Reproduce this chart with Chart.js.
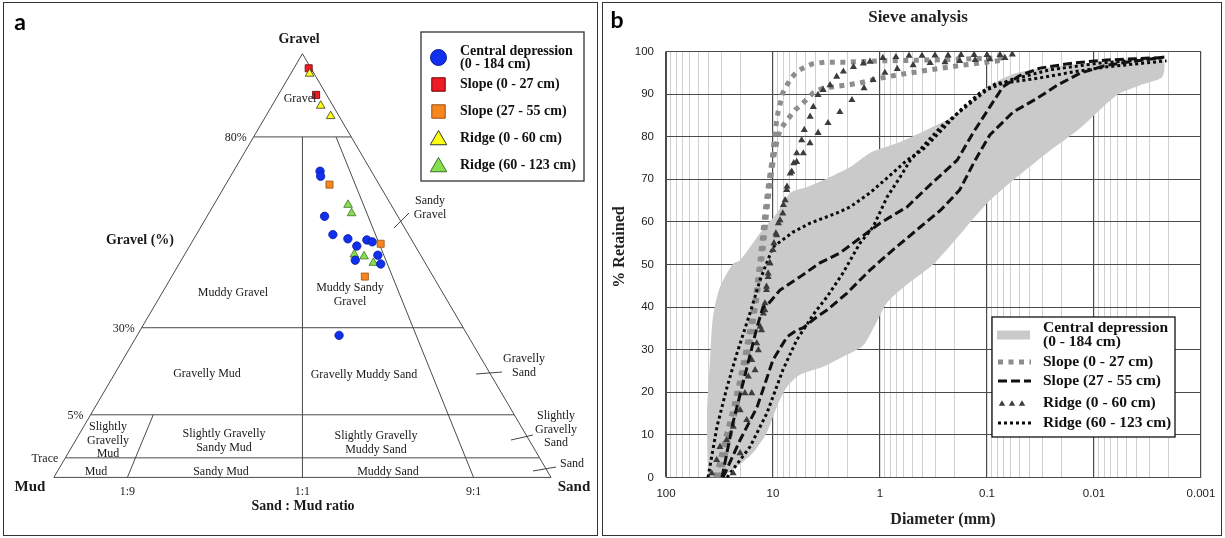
<!DOCTYPE html>
<html>
<head>
<meta charset="utf-8">
<script src="https://cdn.jsdelivr.net/npm/chart.js@4.4.1/dist/chart.umd.min.js"></script>
<style>
body { margin: 0; background: #fff; }
#page { position: relative; width: 1225px; height: 538px; overflow: hidden; }
#page canvas { position: absolute; top: 0; }
.box { position: absolute; border: 1px solid #333; box-sizing: border-box; }
</style>
</head>
<body>
<div id="page">
	<canvas id="ternary" width="600" height="538" style="left:0"></canvas>
	<canvas id="sieve" width="625" height="538" style="left:600px"></canvas>
	<div class="box" style="left:3px;top:2px;width:595px;height:534px"></div>
	<div class="box" style="left:602px;top:2px;width:620px;height:534px"></div>
</div>
<script>
var groupNames = ['Central depression\n(0 - 184 cm)', 'Slope (0 - 27 cm)', 'Slope (27 - 55 cm)', 'Ridge (0 - 60 cm)', 'Ridge (60 - 123 cm)'];

//panel a : sample composition, % gravel and % sand (mud is the rest)
var centralGravel = [71.0, 69.7, 59.2, 54.4, 53.3, 51.4, 53.0, 52.5, 49.0, 46.7, 47.7, 27.8];
var centralSand = [18.8, 19.6, 25.9, 30.4, 34.7, 37.9, 39.6, 41.2, 44.4, 46.3, 39.4, 45.4];
var slopeTopGravel = [96.5, 90.1];
var slopeTopSand = [3.2, 8.2];
var slopeLowGravel = [67.5, 52.0, 43.4];
var slopeLowSand = [22.9, 43.4, 44.0];
var ridgeTopGravel = [95.2, 87.5, 85.0];
var ridgeTopSand = [4.1, 10.6, 13.9];
var ridgeLowGravel = [62.2, 60.0, 49.2, 48.7, 47.0];
var ridgeLowSand = [30.2, 32.2, 38.4, 41.1, 44.3];

//Folk class limits
var gravelLimits = [80, 30, 5, 0.01];
var gravelLimitLabels = ['80%', '30%', '5%', 'Trace'];
var ratioLimits = [0.1, 0.5, 0.9];
var ratioLimitTop = [5, 80, 80];
var ratioLabels = ['1:9', '1:1', '9:1'];
var fieldNames = ['Gravel', 'Muddy Gravel', 'Muddy Sandy\nGravel', 'Sandy\nGravel', 'Gravelly Mud', 'Gravelly Muddy Sand',
	'Gravelly\nSand', 'Slightly\nGravelly\nMud', 'Slightly Gravelly\nSandy Mud', 'Slightly Gravelly\nMuddy Sand',
	'Slightly\nGravelly\nSand', 'Mud', 'Sandy Mud', 'Muddy Sand', 'Sand'];

//panel b : sieve curves, diameter (mm) and % retained
var bandCoarseD = [40.5, 41.4, 38.8, 36.4, 31.3, 23.6, 20.3, 13.2, 9.2, 6.9, 4.8, 3.4, 1.9, 1.24, 0.69, 0.34, 0.21, 0.168, 0.116, 0.076, 0.052, 0.021, 0.0023];
var bandCoarseP = [0, 15, 27.6, 37.7, 44.7, 50.2, 51, 57.4, 62.1, 66.8, 68.2, 69.8, 72.9, 76.2, 78.5, 82, 84.6, 86.3, 90.3, 93.3, 95, 96.6, 98.2];
var bandFineD = [30.2, 21.8, 15.4, 11.5, 9.2, 7.4, 5.6, 3.4, 2.2, 1.44, 1.1, 0.86, 0.58, 0.32, 0.18, 0.1, 0.057, 0.0275, 0.0135, 0.0061, 0.0037, 0.0023];
var bandFineP = [0, 2.5, 5.8, 10.4, 16.6, 21.3, 24.1, 26, 28.4, 31, 36, 41, 45, 50, 57, 64.4, 69.8, 76.2, 82, 89.8, 92.1, 94];

var slope1aD = [34.1, 28.1, 23.7, 19.9, 16.8, 14.7, 13.2, 11.9, 11.1, 10.2, 9.6, 9.0, 8.1, 6.9, 6.0, 5.25, 4.3, 3.3, 2.1, 1.0, 0.34, 0.068];
var slope1aP = [0, 8.8, 15.8, 24.1, 33.5, 41.7, 51.1, 62.1, 68.2, 74.5, 80.9, 85.6, 90.3, 93.5, 95.2, 96.1, 97.1, 97.5, 97.5, 97.8, 98, 98.5];
var slope1bD = [31.3, 25.8, 21.7, 18.3, 15.7, 13.8, 12.4, 11.4, 10.4, 9.6, 8.6, 7.4, 6.2, 5.25, 4.2, 3.4, 2.4, 1.54, 1.11, 0.69, 0.34, 0.17, 0.068];
var slope1bP = [0, 8.8, 17, 25.2, 34.6, 44, 53.4, 62.8, 71, 76.9, 81.6, 83.9, 86.3, 87.9, 90.3, 91.4, 91.9, 92.6, 93.5, 94.5, 95.7, 96.8, 98];

var slope2aD = [30.0, 23.7, 17.5, 14.1, 12.4, 11.1, 8.6, 5.6, 3.64, 2.37, 1.54, 1.0, 0.56, 0.34, 0.19, 0.135, 0.094, 0.071, 0.05, 0.032, 0.0157, 0.0076, 0.0022];
var slope2aP = [0, 12.8, 25.9, 35.3, 40, 40.7, 44, 47.1, 50.4, 52.7, 56.2, 59.7, 63.5, 68.7, 74.5, 80.9, 87, 91.7, 94.3, 96.1, 97.3, 98.0, 98.6];
var slope2bD = [29.3, 20.3, 14.1, 10.0, 7.4, 6.0, 5.25, 3.9, 3.13, 2.03, 1.24, 0.76, 0.42, 0.27, 0.18, 0.129, 0.094, 0.057, 0.034, 0.022, 0.0135, 0.0076, 0.0022];
var slope2bP = [0, 8.8, 16.5, 27.6, 33, 34.6, 35.1, 37.7, 39.3, 43.3, 48.7, 53.4, 58.8, 62.8, 67.5, 74.5, 80.4, 85.8, 89, 92.1, 94.9, 96.8, 98.7];

var ridge1aD = [37.4, 33.6, 31.3, 27.1, 23.5, 20.3, 18.3, 17.0, 15.8, 14.2, 13.2, 12.3, 11.9, 11.5, 11.1, 10.7, 9.8, 9.4, 8.9, 8.1,
	7.7, 7.4, 6.9, 6.4, 6.0, 5.4, 5.1, 4.5, 4.2, 3.8, 3.4, 2.93, 2.54, 2.2, 1.77, 1.43, 1.24, 0.94, 0.71, 0.535,
	0.405, 0.306, 0.231, 0.175, 0.132, 0.1, 0.0756, 0.058];
var ridge1aP = [1.0, 4.1, 7.2, 8.8, 11.9, 15.8, 19.8, 23.7, 27.6, 31.5, 35.4, 38.5, 40.9, 44.8, 47.9, 50.3, 55.0, 57.3, 59.7, 62.0,
	65.1, 68.3, 71.4, 73.8, 76.1, 79.2, 81.6, 84.7, 87.0, 89.8, 91.0, 92.1, 94.1, 95.3, 96.4, 97.2, 97.6, 98.5, 98.7, 99.0,
	99.0, 99.1, 99.1, 99.2, 99.2, 99.2, 99.2, 99.3];
var ridge1bD = [23.6, 20.3, 17.6, 15.8, 14.7, 13.7, 12.8, 11.9, 11.5, 11.1, 10.7, 10.0, 9.24, 8.6, 8.0, 7.45, 6.68, 6.01, 5.21, 4.51,
	3.79, 3.06, 2.37, 1.83, 1.41, 1.16, 0.90, 0.69, 0.49, 0.34, 0.247, 0.18, 0.129, 0.094, 0.068];
var ridge1bP = [1.0, 5.7, 13.5, 19.8, 25.2, 29.9, 34.6, 39.3, 44.0, 47.1, 50.3, 53.4, 56.9, 60.4, 64.0, 67.5, 71.8, 74.1, 76.1, 78.5,
	80.9, 83.2, 85.8, 88.6, 91.4, 93.3, 95.0, 95.9, 96.8, 97.3, 97.5, 97.8, 98.0, 98.2, 98.5];

var ridge2aD = [40.5, 33.4, 26.9, 21.7, 16.4, 13.2, 10.0, 6.5, 4.5, 2.52, 1.91, 1.24, 0.76, 0.56, 0.40, 0.24, 0.17, 0.116, 0.081, 0.061, 0.032, 0.0157, 0.0076, 0.0021];
var ridge2aP = [0, 11.9, 21.2, 29.2, 38.6, 46.4, 54.1, 57.6, 59.7, 62.1, 63.5, 66.8, 71.5, 74.5, 76.9, 82.7, 86.7, 90.3, 92.6, 92.8, 93.8, 95.2, 96.4, 97.8];
var ridge2bD = [26.9, 16.4, 11.4, 8.1, 6.0, 5.0, 4.05, 3.13, 2.22, 1.54, 1.16, 0.86, 0.65, 0.52, 0.27, 0.1, 0.061, 0.026, 0.0088, 0.0022];
var ridge2bP = [0, 7.2, 15.1, 25.2, 32.3, 35.3, 38.8, 42.4, 48, 55, 58.8, 65.8, 70.5, 74.5, 82.3, 91, 93.3, 95.7, 97.3, 98.5];

var decades = [0.001, 0.01, 0.1, 1, 10, 100];
var decadeLabels = ['0.001', '0.01', '0.1', '1', '10', '100'];

var SERIF = '"Liberation Serif", "Times New Roman", serif';

//------------------------------------------------------------
//panel a
//the Folk diagram is schematic: gravel limits and ratio lines are not spaced linearly
var gravelKnots = [0, 0.01, 5, 30, 80, 100];
var heightKnots = [0, 4.62, 14.78, 35.33, 80.37, 100];
var ratioKnots = [0, 0.1, 0.5, 0.9, 1];
var baseKnots = [0, 14.79, 50, 84.42, 100];

function piecewise(v, xs, ys) {
	for (var i = 1; i < xs.length; i++) {
		if (v <= xs[i]) {
			return ys[i - 1] + (ys[i] - ys[i - 1]) * (v - xs[i - 1]) / (xs[i] - xs[i - 1]);
		}
	}
	return ys[ys.length - 1];
}

function folkPoint(gravel, share) {
	var h = piecewise(gravel, gravelKnots, heightKnots);
	var b = piecewise(share, ratioKnots, baseKnots);
	return {x: 50 + (b - 50) * (1 - h / 100), y: h};
}

function samplePoints(gravel, sand) {
	return gravel.map(function(g, i) {
		return folkPoint(g, sand[i] / (100 - g));
	});
}

function frameLine(points) {
	return {data: points, showLine: true, borderColor: '#4a4a4a', borderWidth: 1, pointRadius: 0, order: 5};
}

var ternarySets = [];
ternarySets.push(frameLine([folkPoint(0, 0), folkPoint(100, 0.5), folkPoint(0, 1), folkPoint(0, 0)]));
gravelLimits.forEach(function(g) {
	ternarySets.push(frameLine([folkPoint(g, 0), folkPoint(g, 1)]));
});
ratioLimits.forEach(function(r, i) {
	ternarySets.push(frameLine([folkPoint(0, r), folkPoint(ratioLimitTop[i], r)]));
});

ternarySets.push({label: groupNames[2], legendA: 2, data: samplePoints(slopeLowGravel, slopeLowSand), pointStyle: 'rect', pointRadius: 5,
	backgroundColor: '#f7861f', borderColor: '#9a5012', borderWidth: 0.8, order: 1});
ternarySets.push({label: groupNames[4], legendA: 4, data: samplePoints(ridgeLowGravel, ridgeLowSand), pointStyle: 'triangle', pointRadius: 5,
	backgroundColor: '#86e04e', borderColor: '#3f6e2a', borderWidth: 0.8, order: 2});
ternarySets.push({label: groupNames[0], legendA: 0, data: samplePoints(centralGravel, centralSand), pointStyle: 'circle', pointRadius: 4.2,
	backgroundColor: '#1030f0', borderColor: '#0a1a9a', borderWidth: 0.8, order: 1});
ternarySets.push({label: groupNames[3], legendA: 3, data: samplePoints(ridgeTopGravel, ridgeTopSand), pointStyle: 'triangle', pointRadius: 5,
	backgroundColor: '#ffff14', borderColor: '#333', borderWidth: 0.8, order: 1});
ternarySets.push({label: groupNames[1], legendA: 1, data: samplePoints(slopeTopGravel, slopeTopSand), pointStyle: 'rect', pointRadius: 5,
	backgroundColor: '#ee1c24', borderColor: '#6a0000', borderWidth: 0.8, order: 2});

function writeText(ctx, s, x, y, font, align, step) {
	ctx.font = font;
	ctx.textAlign = align || 'center';
	ctx.textBaseline = 'middle';
	s.split('\n').forEach(function(line, i) {
		ctx.fillText(line, x, y + i * (step || 13.5));
	});
}

var ternaryDecor = {
	id: 'ternaryDecor',
	afterDraw: function(chart) {
		var ctx = chart.ctx;
		var sx = chart.scales.x, sy = chart.scales.y;
		ctx.save();
		ctx.fillStyle = '#1a1a1a';

		//field names
		var spots = [[300, 99], [233, 293], [350, 288], [430, 201], [207, 374], [364, 375], [524, 359], [108, 427],
			[224, 434], [376, 436], [556, 416], [96, 472], [221, 472], [388, 472], [572, 464]];
		fieldNames.forEach(function(name, i) {
			writeText(ctx, name, spots[i][0], spots[i][1], '12px ' + SERIF);
		});

		//limit labels
		gravelLimits.forEach(function(g, i) {
			var p = folkPoint(g, 0);
			writeText(ctx, gravelLimitLabels[i], sx.getPixelForValue(p.x) - 7, sy.getPixelForValue(p.y) + 1, '12px ' + SERIF, 'right');
		});
		ratioLimits.forEach(function(r, i) {
			var p = folkPoint(0, r);
			writeText(ctx, ratioLabels[i], sx.getPixelForValue(p.x), 492, '12px ' + SERIF);
		});

		//leader lines
		ctx.strokeStyle = '#444';
		ctx.lineWidth = 1;
		[[394, 228, 409, 213], [476, 374, 502, 372], [511, 440, 533, 435], [533, 471, 556, 467]].forEach(function(l) {
			ctx.beginPath();
			ctx.moveTo(l[0], l[1]);
			ctx.lineTo(l[2], l[3]);
			ctx.stroke();
		});

		//axis names
		writeText(ctx, 'Gravel', 299, 39, 'bold 14px ' + SERIF);
		writeText(ctx, 'Mud', 30, 487, 'bold 15px ' + SERIF);
		writeText(ctx, 'Sand', 574, 487, 'bold 15px ' + SERIF);
		writeText(ctx, 'Gravel (%)', 140, 240, 'bold 14px ' + SERIF);
		writeText(ctx, 'Sand : Mud ratio', 303, 506, 'bold 14px ' + SERIF);
		ctx.fillStyle = '#000';
		writeText(ctx, 'a', 20, 23, 'bold 23px Lato, "Liberation Sans", sans-serif');

		//legend
		ctx.fillStyle = '#fff';
		ctx.fillRect(421, 32, 163, 149);
		ctx.strokeStyle = '#333';
		ctx.lineWidth = 1.3;
		ctx.strokeRect(421, 32, 163, 149);
		chart.data.datasets.forEach(function(ds) {
			if (ds.legendA === undefined) {
				return;
			}
			var y = 57.5 + ds.legendA * 27;
			ctx.fillStyle = ds.backgroundColor;
			ctx.strokeStyle = ds.borderColor;
			ctx.lineWidth = 1;
			Chart.helpers.drawPoint(ctx, {pointStyle: ds.pointStyle, radius: ds.pointRadius * 1.9, rotation: 0, borderWidth: 1}, 438.5, y + (ds.pointStyle === 'triangle' ? 1.5 : 0));
			ctx.fillStyle = '#111';
			var lines = ds.label.split('\n');
			writeText(ctx, ds.label, 460, y - (lines.length - 1) * 6.5, 'bold 14px ' + SERIF, 'left', 13);
		});
		ctx.restore();
	}
};

new Chart(document.getElementById('ternary'), {
	type: 'scatter',
	data: {datasets: ternarySets},
	options: {
		responsive: false,
		animation: false,
		events: [],
		layout: {padding: 0},
		plugins: {legend: {display: false}, tooltip: {enabled: false}},
		scales: {
			x: {type: 'linear', display: false, min: -9.665, max: 108.68},
			y: {type: 'linear', display: false, min: -12.933, max: 111.316}
		}
	},
	plugins: [ternaryDecor]
});

//------------------------------------------------------------
//panel b
function pts(d, p) {
	return d.map(function(v, i) {
		return {x: v, y: p[i]};
	});
}

function isDecade(v) {
	return decades.indexOf(v) >= 0;
}

var squareDots = {borderColor: '#8d8d8d', borderWidth: 5, borderDash: [5, 5.5], pointRadius: 0, order: 2};
var dashes = {borderColor: '#111', borderWidth: 3, borderDash: [9, 4], pointRadius: 0, order: 1};
var triangles = {showLine: false, pointStyle: 'triangle', pointRadius: 4.1, pointBackgroundColor: '#3c3c3c', pointBorderWidth: 0, order: 1};
var dots = {borderColor: '#0a0a0a', borderWidth: 3, borderDash: [3, 3], pointRadius: 0, order: 1};

var sieveSets = [
	{legendText: groupNames[0], data: pts(bandCoarseD, bandCoarseP).concat(pts(bandFineD, bandFineP).reverse()),
		fill: 'shape', backgroundColor: '#c9cac9', borderWidth: 0, pointRadius: 0, tension: 0.25, order: 9},
	Object.assign({legendText: groupNames[1], data: pts(slope1aD, slope1aP)}, squareDots),
	Object.assign({data: pts(slope1bD, slope1bP)}, squareDots),
	Object.assign({legendText: groupNames[2], data: pts(slope2aD, slope2aP)}, dashes),
	Object.assign({data: pts(slope2bD, slope2bP)}, dashes),
	Object.assign({legendText: groupNames[3], data: pts(ridge1aD, ridge1aP)}, triangles),
	Object.assign({data: pts(ridge1bD, ridge1bP)}, triangles),
	Object.assign({legendText: groupNames[4], data: pts(ridge2aD, ridge2aP)}, dots),
	Object.assign({data: pts(ridge2bD, ridge2bP)}, dots)
];

var sieveDecor = {
	id: 'sieveDecor',
	afterDraw: function(chart) {
		var ctx = chart.ctx;
		ctx.save();
		ctx.fillStyle = '#000';
		writeText(ctx, 'b', 17, 21, 'bold 23px Lato, "Liberation Sans", sans-serif');
		ctx.fillStyle = '#222';
		writeText(ctx, 'Sieve analysis', 318, 18, 'bold 17px ' + SERIF);
		writeText(ctx, 'Diameter (mm)', 343, 520, 'bold 16px ' + SERIF);
		ctx.save();
		ctx.translate(20, 247);
		ctx.rotate(-Math.PI / 2);
		writeText(ctx, '% Retained', 0, 0, 'bold 16px ' + SERIF);
		ctx.restore();

		//legend
		ctx.fillStyle = '#fff';
		ctx.fillRect(392, 317, 183, 120);
		ctx.strokeStyle = '#111';
		ctx.lineWidth = 1.3;
		ctx.strokeRect(392, 317, 183, 120);
		var rows = [335, 362, 381, 403, 423];
		var k = 0;
		chart.data.datasets.forEach(function(ds) {
			if (!ds.legendText) {
				return;
			}
			var y = rows[k++];
			if (ds.fill === 'shape') {
				ctx.fillStyle = ds.backgroundColor;
				ctx.fillRect(397, y - 4.5, 33, 9);
			} else if (ds.showLine === false) {
				ctx.fillStyle = ds.pointBackgroundColor;
				for (var j = 0; j < 3; j++) {
					Chart.helpers.drawPoint(ctx, {pointStyle: ds.pointStyle, radius: ds.pointRadius * 0.9, rotation: 0, borderWidth: 0}, 402 + j * 10, y + 1);
				}
			} else {
				ctx.strokeStyle = ds.borderColor;
				ctx.lineWidth = ds.borderWidth;
				ctx.setLineDash(ds.borderDash);
				ctx.beginPath();
				ctx.moveTo(398, y);
				ctx.lineTo(431, y);
				ctx.stroke();
				ctx.setLineDash([]);
			}
			ctx.fillStyle = '#111';
			var lines = ds.legendText.split('\n');
			writeText(ctx, ds.legendText, 443, y - (lines.length - 1) * 7, 'bold 15.5px ' + SERIF, 'left', 14);
		});
		ctx.restore();
	}
};

new Chart(document.getElementById('sieve'), {
	type: 'line',
	data: {datasets: sieveSets},
	options: {
		responsive: false,
		animation: false,
		events: [],
		layout: {padding: {top: 51.5, right: 24, left: 0, bottom: 0}},
		plugins: {legend: {display: false}, tooltip: {enabled: false}},
		scales: {
			x: {
				type: 'logarithmic',
				reverse: true,
				min: 0.001,
				max: 100,
				afterBuildTicks: function(scale) {
					var t = [];
					decades.forEach(function(d, i) {
						if (i < decades.length - 1) {
							for (var m = 1; m < 10; m++) {
								t.push({value: +(d * m).toPrecision(3)});
							}
						} else {
							t.push({value: d});
						}
					});
					scale.ticks = t;
				},
				afterFit: function(scale) {
					scale.height = 60.5;
				},
				grid: {
					drawTicks: false,
					color: function(c) {
						return c.tick && isDecade(c.tick.value) ? '#4a4a4a' : '#d0d0d0';
					},
					lineWidth: function(c) {
						return c.tick && isDecade(c.tick.value) ? 1.2 : 1;
					}
				},
				border: {color: '#4a4a4a'},
				ticks: {
					autoSkip: false,
					maxRotation: 0,
					padding: 9,
					color: '#222',
					font: {family: '"Liberation Sans", Arial, sans-serif', size: 11.5},
					callback: function(v) {
						var i = decades.indexOf(v);
						return i >= 0 ? decadeLabels[i] : '';
					}
				}
			},
			y: {
				min: 0,
				max: 100,
				afterFit: function(scale) {
					scale.width = 66;
				},
				grid: {drawTicks: false, color: '#4a4a4a'},
				border: {color: '#4a4a4a'},
				ticks: {
					stepSize: 10,
					padding: 12,
					color: '#222',
					font: {family: '"Liberation Sans", Arial, sans-serif', size: 11.5}
				}
			}
		}
	},
	plugins: [sieveDecor]
});
</script>
</body>
</html>
